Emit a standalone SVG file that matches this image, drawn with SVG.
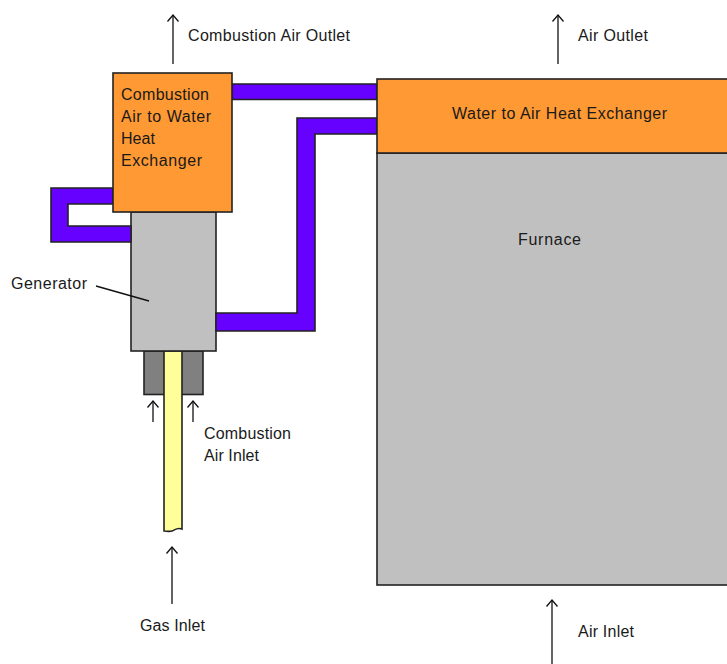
<svg xmlns="http://www.w3.org/2000/svg" width="727" height="664" viewBox="0 0 727 664">
<defs>
<style>
.s{stroke:#222;stroke-width:1.6}
.p{fill:#6600ff}
.o{fill:#ff9933}
.g{fill:#c0c0c0}
.d{fill:#808080}
.y{fill:#ffff99}
.l{fill:none;stroke:#111;stroke-width:1.3}
text{font-family:"Liberation Sans",Arial,sans-serif;font-size:16px;fill:#1a1a1a}
</style>
<marker id="a" markerUnits="userSpaceOnUse" markerWidth="12" markerHeight="14" refX="9" refY="7" orient="auto" viewBox="0 0 12 14"><path d="M2.500 1.500 9 7 2.500 12.500" fill="none" stroke="#111" stroke-width="1.3"/></marker>
</defs>
<rect width="727" height="664" fill="#fff"/>
<g id="burner"><rect class="s d" x="144" y="351" width="59" height="43.500"/></g>
<g id="gas-pipe"><path class="s y" d="M164 351H182V529C177 527 175 530 172 531C169 532 167 531 164 531Z"/></g>
<g id="generator"><rect class="s g" x="131" y="212" width="85" height="139"/><text x="11" y="289" textLength="76">Generator</text></g>
<g id="furnace"><rect class="s g" x="377" y="153" width="352" height="432"/><text x="518" y="245" textLength="63">Furnace</text></g>
<g id="connectors">
<path class="s p" d="M232 84H377V99.500H232Z"/>
<path class="s p" d="M377 118H297V313H216V331H315V134H377Z"/>
<path class="s p" d="M113 188H51V242H131V226H68V204H113Z"/>
<path class="l" marker-end="url(#a)" d="M173 64V15"/>
<path class="l" marker-end="url(#a)" d="M558 64V15"/>
<path class="l" marker-end="url(#a)" d="M153 422V401"/>
<path class="l" marker-end="url(#a)" d="M193 422V401"/>
<path class="l" marker-end="url(#a)" d="M172 604V547"/>
<path class="l" marker-end="url(#a)" d="M552 664V600"/>
<path class="l" d="M96 286 149 301"/>
</g>
<g id="combustion-exchanger"><rect class="s o" x="113" y="73" width="119" height="139"/>
<text x="121" y="100" textLength="88">Combustion</text><text x="121" y="122" textLength="90">Air to Water</text><text x="121" y="144" textLength="34">Heat</text><text x="121" y="166" textLength="81">Exchanger</text></g>
<g id="water-exchanger"><rect class="s o" x="377" y="79" width="352" height="74"/><text x="452" y="119" textLength="215">Water to Air Heat Exchanger</text></g>
<g id="labels">
<text x="188" y="41" textLength="162">Combustion Air Outlet</text>
<text x="578" y="41" textLength="70">Air Outlet</text>
<text x="204" y="439" textLength="87">Combustion</text>
<text x="204" y="461" textLength="55">Air Inlet</text>
<text x="140" y="631" textLength="65">Gas Inlet</text>
<text x="578" y="637" textLength="56">Air Inlet</text>
</g>
</svg>
